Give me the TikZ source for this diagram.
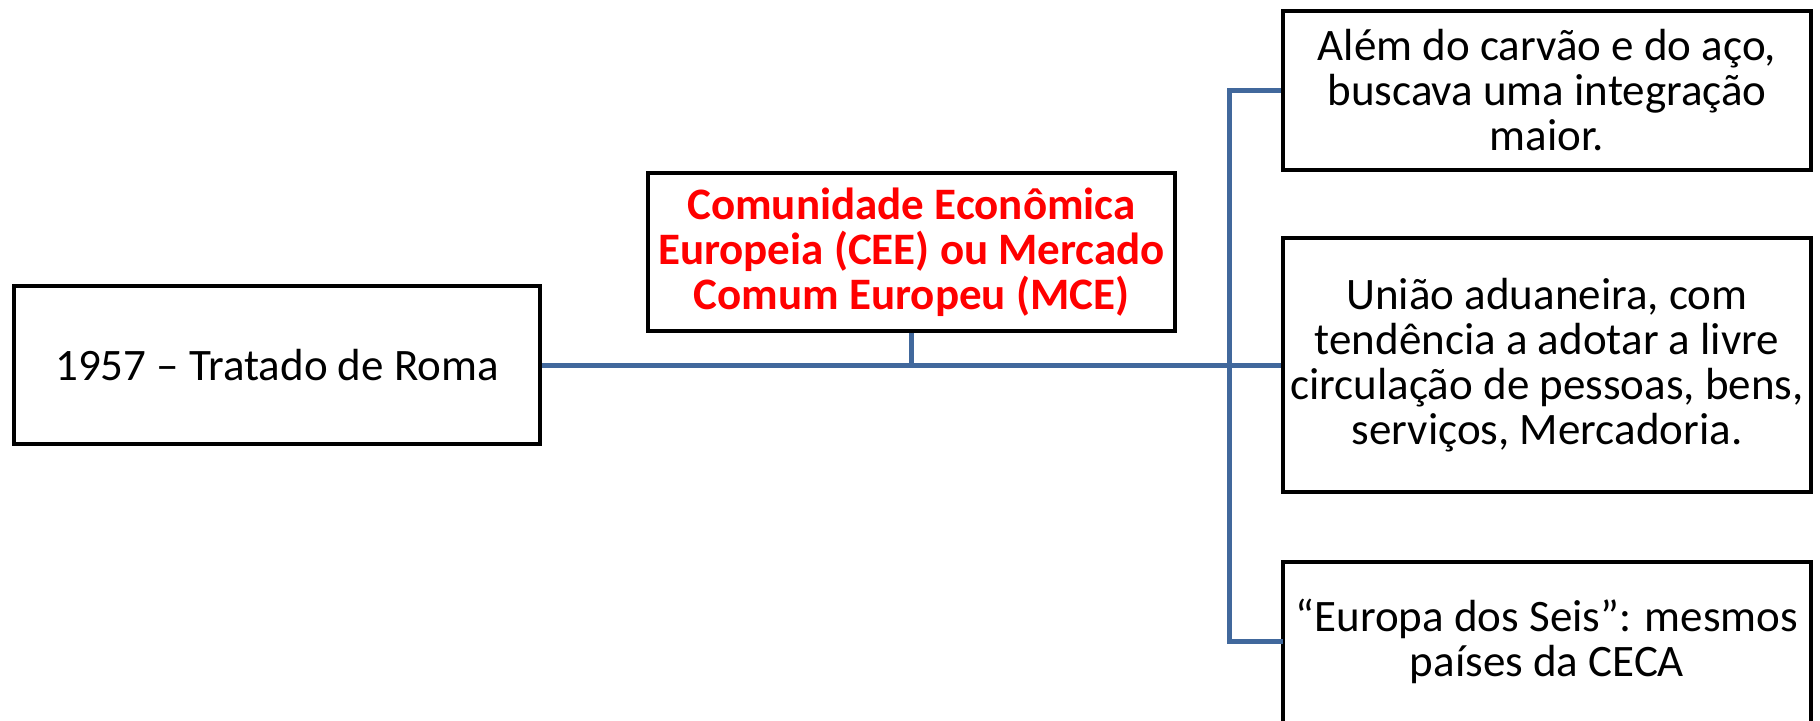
\documentclass[tikz,border=0pt]{standalone}
\usepackage{fontspec}
\setmainfont{Carlito}
\definecolor{conn}{HTML}{41689C}
\definecolor{redtxt}{HTML}{FF0000}
\begin{document}
\begin{tikzpicture}[x=1pt,y=-1pt,
  box/.style={draw=black, line width=4.5pt, fill=white, inner sep=0pt, align=center,
    font=\fontsize{45}{45}\selectfont},
  conline/.style={draw=conn, line width=5pt}]
\useasboundingbox (0,0) rectangle (1820,720);
\coordinate (sp) at (1229,0);
\node[box, minimum width=526pt, minimum height=158pt] (b1) at (277,365) {1957 -- Tratado de Roma};
\node[box, minimum width=527pt, minimum height=158pt, text=redtxt, font=\fontsize{45}{45}\selectfont\bfseries] (b2) at (911.5,252)
  {Comunidade Econômica\\Europeia (CEE) ou Mercado\\Comum Europeu (MCE)};
\node[box, minimum width=528pt, minimum height=159pt] (b3) at (1547,90.5)
  {Além do carvão e do aço,\\buscava uma integração\\maior.};
\node[box, minimum width=528pt, minimum height=254pt] (b4) at (1547,365)
  {União aduaneira, com\\tendência a adotar a livre\\circulação de pessoas, bens,\\serviços, Mercadoria.};
\node[box, draw=none, minimum width=528pt, minimum height=158pt] (b5) at (1547,641)
  {“Europa dos Seis”: mesmos\\países da CECA};
\draw[black, line width=4.5pt] ([shift={(2.25pt,-2.25pt)}]b5.north west) rectangle ([shift={(-2.25pt,-14pt)}]b5.south east);
\draw[conline] (b1.east) -- (b4.west);
\draw[conline] (b2.south) -- (b2.south |- b1.east);
\draw[conline] (b3.west) -- (b3.west -| sp) -- (b5.west -| sp) -- ([xshift=2.25pt]b5.west);
\end{tikzpicture}
\end{document}
